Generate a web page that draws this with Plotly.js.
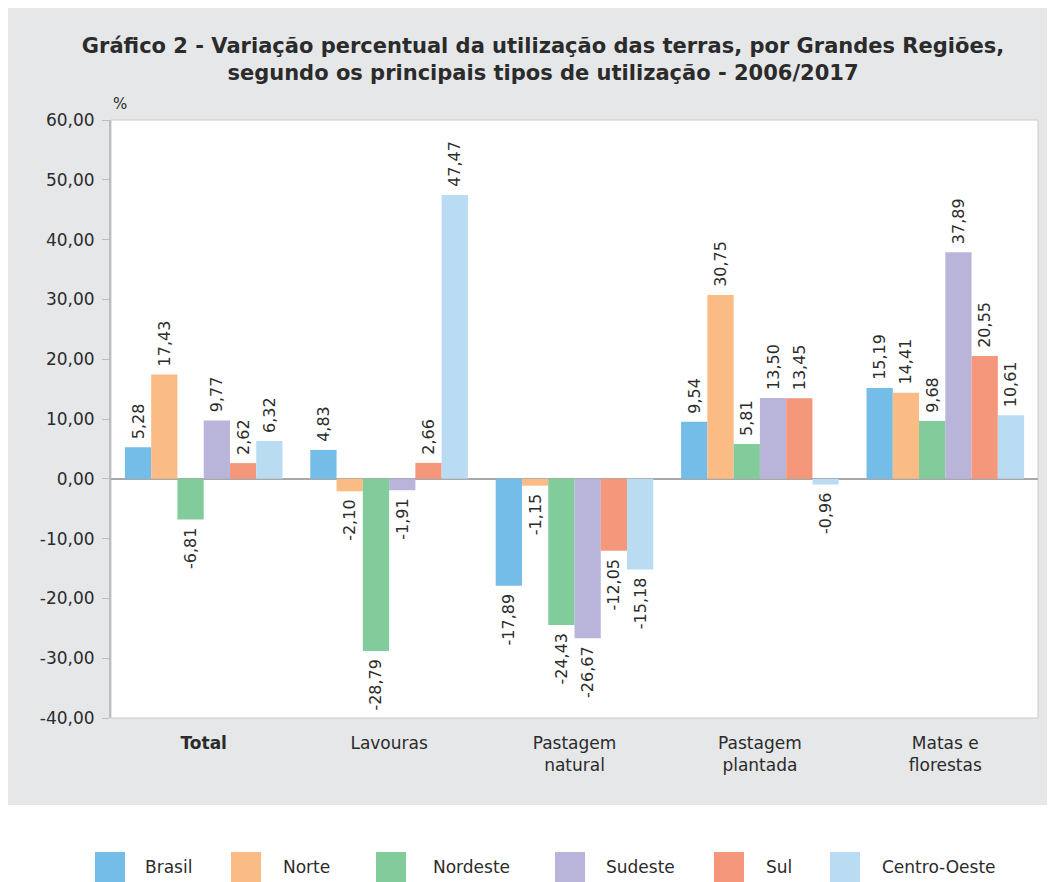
<!DOCTYPE html>
<html>
<head>
<meta charset="utf-8">
<script src="https://cdn.plot.ly/plotly-3.0.1.min.js"></script>
<style>html,body{margin:0;padding:0;background:#fff;}#chart{width:1054px;height:882px;}</style>
</head>
<body>
<div id="chart"></div>
<script>
// ---- data ----
var categories = ["<b>Total</b>", "Lavouras", "Pastagem<br>natural", "Pastagem<br>plantada", "Matas e<br>florestas"];
var seriesNames = ["Brasil", "Norte", "Nordeste", "Sudeste", "Sul", "Centro-Oeste"];
var brasil      = [5.28, 4.83, -17.89, 9.54, 15.19];
var norte       = [17.43, -2.10, -1.15, 30.75, 14.41];
var nordeste    = [-6.81, -28.79, -24.43, 5.81, 9.68];
var sudeste     = [9.77, -1.91, -26.67, 13.50, 37.89];
var sul         = [2.62, 2.66, -12.05, 13.45, 20.55];
var centroOeste = [6.32, 47.47, -15.18, -0.96, 10.61];
var yTickVals = [-40, -30, -20, -10, 0, 10, 20, 30, 40, 50, 60];

// ---- styles ----
var colors = ["#74bde8", "#fbbb85", "#82cb9b", "#b9b4d9", "#f5977b", "#b9dcf3"];
var FONT = "DejaVu Sans, Verdana, sans-serif";
var TXT = '#2b2b2b';
var seriesValues = [brasil, norte, nordeste, sudeste, sul, centroOeste];

function fmt(v){ return v.toFixed(2).replace('.', ','); }
function label(v){ return v >= 0 ? ' ' + fmt(v) : fmt(v) + ' '; }

var traces = seriesValues.map(function(vals, i){
  return {
    type: 'bar',
    name: seriesNames[i],
    x: categories,
    y: vals,
    text: vals.map(label),
    textposition: 'outside',
    textangle: -90,
    constraintext: 'none',
    cliponaxis: false,
    textfont: {family: FONT, size: 16, color: TXT},
    marker: {color: colors[i], line: {width: 0}},
    hoverinfo: 'skip',
    showlegend: false
  };
});

// plot area geometry in pixels
var L = 111, R = 1038, T = 120, B = 718, W = 1054, H = 882;
var pw = R - L, ph = B - T;
function px(x){ return (x - L) / pw; }
function py(y){ return (B - y) / ph; }

var shapes = [
  {type:'rect', xref:'paper', yref:'paper', x0:px(8), x1:px(1047), y0:py(805), y1:py(8),
   fillcolor:'#e6e7e9', line:{width:0}, layer:'below'},
  {type:'rect', xref:'paper', yref:'paper', x0:0, x1:1, y0:0, y1:1,
   fillcolor:'#ffffff', line:{color:'#cacaca', width:1}, layer:'below'}
];
var annotations = [
  {xref:'paper', yref:'paper', x:px(111), y:py(104), text:'%', showarrow:false,
   xanchor:'left', yanchor:'middle', font:{family:FONT, size:15, color:TXT}}
];

// custom legend
var legSquareX = [95, 231, 376, 555, 714, 830];
var legTextX = [143, 281, 431, 604, 764, 880];
seriesNames.forEach(function(n, i){
  shapes.push({type:'rect', xref:'paper', yref:'paper', x0:px(legSquareX[i]), x1:px(legSquareX[i]+30),
    y0:py(882), y1:py(852), fillcolor:colors[i], line:{width:0}});
  annotations.push({xref:'paper', yref:'paper', x:px(legTextX[i]), y:py(867), text:n, showarrow:false,
    xanchor:'left', yanchor:'middle', font:{family:FONT, size:17, color:TXT}});
});

var layout = {
  width: W, height: H,
  margin: {l: L, r: W - R, t: T, b: H - B, pad: 0},
  paper_bgcolor: '#ffffff',
  plot_bgcolor: 'rgba(0,0,0,0)',
  separators: ',.',
  barmode: 'group',
  bargap: 0.15,
  bargroupgap: 0,
  showlegend: false,
  title: {
    text: '<b>Gráfico 2 - Variação percentual da utilização das terras, por Grandes Regiões,<br>segundo os principais tipos de utilização - 2006/2017</b>',
    font: {family: FONT, size: 21, color: TXT},
    x: 543 / W, xanchor: 'center', xref: 'container',
    y: 1 - 53 / H, yanchor: 'top'
  },
  xaxis: {
    type: 'category',
    showline: false,
    ticks: '',
    showgrid: false,
    tickfont: {family: FONT, size: 17, color: TXT},
    ticklabelstandoff: 13,
    fixedrange: true
  },
  yaxis: {
    range: [-40, 60],
    tickvals: yTickVals,
    ticktext: yTickVals.map(fmt),
    showline: true,
    linecolor: '#bdbdbd',
    linewidth: 2,
    ticks: 'outside',
    ticklen: 7,
    tickcolor: '#bdbdbd',
    showgrid: false,
    zeroline: true,
    zerolinecolor: '#a8a8a8',
    zerolinewidth: 1.5,
    tickfont: {family: FONT, size: 17, color: TXT},
    ticklabelstandoff: 4,
    fixedrange: true
  },
  shapes: shapes,
  annotations: annotations
};

Plotly.newPlot('chart', traces, layout, {displayModeBar: false, staticPlot: true});
</script>
</body>
</html>
